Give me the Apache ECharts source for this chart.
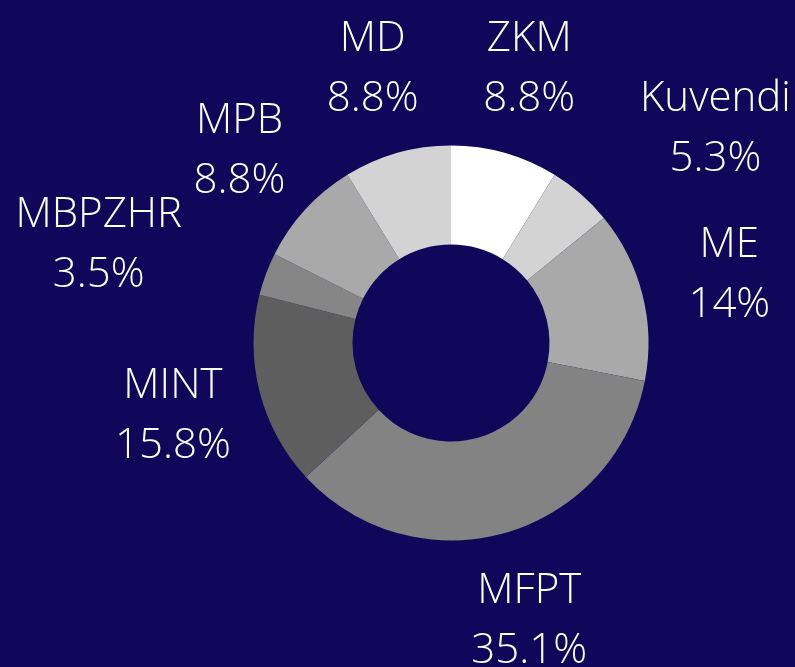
<!DOCTYPE html>
<html>
<head>
<meta charset="utf-8">
<script src="https://cdn.jsdelivr.net/npm/echarts@6/dist/echarts.min.js"></script>
<style>
html,body{margin:0;padding:0;background:#10065a;}
#chart{width:795px;height:667px;}
</style>
</head>
<body>
<div id="chart"></div>
<script>
const categories = ['ZKM', 'Kuvendi', 'ME', 'MFPT', 'MINT', 'MBPZHR', 'MPB', 'MD'];
const percentValues = [8.8, 5.3, 14, 35.1, 15.8, 3.5, 8.8, 8.8];
const sliceColors = ['#ffffff', '#d3d3d3', '#a9a9a9', '#838383', '#5e5e5e', '#868686', '#a9a9a9', '#d3d3d3'];

const pieData = categories.map((name, i) => ({ name: name, value: percentValues[i] }));
// labels anchored by their edge instead of their centre (to avoid overlap)
const labelAnchorSide = { 'Kuvendi': 1, 'MBPZHR': -1 };

const chart = echarts.init(document.getElementById('chart'), null, { renderer: 'canvas' });
chart.setOption({
  backgroundColor: '#10065a',
  animation: false,
  color: sliceColors,
  series: [
    {
      type: 'pie',
      center: [451, 343],
      radius: [98.5, 197.5],
      startAngle: 90,
      clockwise: true,
      silent: true,
      label: { show: false },
      labelLine: { show: false },
      itemStyle: { borderWidth: 0 },
      data: pieData
    },
    {
      type: 'pie',
      center: [451, 345],
      radius: [283, 285],
      startAngle: 90,
      clockwise: true,
      silent: true,
      itemStyle: { color: 'transparent', borderWidth: 0 },
      labelLine: { show: false },
      label: {
        show: true,
        position: 'inside',
        color: '#ffffff',
        fontFamily: 'Open Sans',
        fontWeight: 300,
        fontSize: 42,
        lineHeight: 60,
        formatter: p => p.name + '\n' + p.value + '%'
      },
      labelLayout: function (params) {
        const s = labelAnchorSide[categories[params.dataIndex]];
        if (!s || !params.labelRect) return {};
        return { dx: s * params.labelRect.width / 2 };
      },
      data: pieData
    }
  ]
});
</script>
</body>
</html>
